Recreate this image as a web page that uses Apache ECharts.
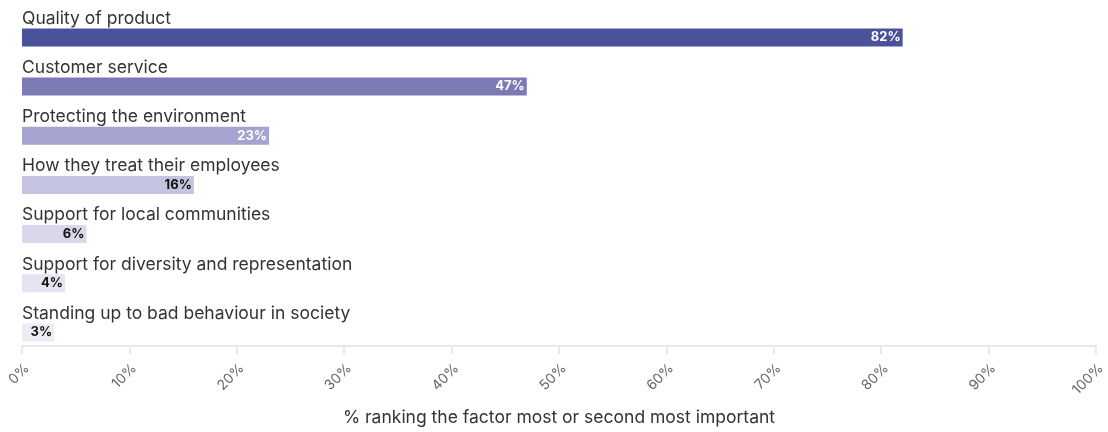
<!DOCTYPE html>
<html>
<head>
<meta charset="utf-8">
<script src="https://cdn.jsdelivr.net/npm/echarts@6/dist/echarts.min.js"></script>
<style>
  html, body { margin: 0; padding: 0; background: #fff; }
  #chart { width: 1108px; height: 432px; }
</style>
</head>
<body>
<div id="chart"></div>
<script>
// Factors and their share of respondents ranking them first or second
const factors = [
  'Quality of product',
  'Customer service',
  'Protecting the environment',
  'How they treat their employees',
  'Support for local communities',
  'Support for diversity and representation',
  'Standing up to bad behaviour in society'
];
const shares = [82, 47, 23, 16, 6, 4, 3];
const barColors = ['#4a5399', '#7b7ab5', '#a5a3cf', '#c4c3e0', '#d8d7eb', '#e4e3f1', '#ececf5'];
const valueLabelColors = ['#ffffff', '#ffffff', '#ffffff', '#111111', '#111111', '#111111', '#111111'];
const xTicks = [0, 10, 20, 30, 40, 50, 60, 70, 80, 90, 100];
const axisTitle = '% ranking the factor most or second most important';

const fontFamily = 'Inter, "Noto Sans", sans-serif';

const chart = echarts.init(document.getElementById('chart'), null, { renderer: 'canvas' });

chart.setOption({
  animation: false,
  backgroundColor: '#ffffff',
  grid: { left: 22, right: 11, top: 12.8, bottom: 73.8, containLabel: false },
  xAxis: {
    type: 'value',
    min: xTicks[0],
    max: xTicks[xTicks.length - 1],
    interval: 10,
    offset: -11,
    axisLine: { show: true, lineStyle: { color: '#e8e8e8', width: 2 } },
    axisTick: { show: true, length: 8, lineStyle: { color: '#e8e8e8', width: 2 } },
    splitLine: { show: false },
    axisLabel: {
      rotate: 45,
      color: '#666666',
      fontSize: 14,
      fontFamily: fontFamily,
      margin: 15,
      verticalAlign: 'top',
      formatter: v => v + '%'
    },
    name: axisTitle,
    nameLocation: 'middle',
    nameGap: 63,
    nameTextStyle: { color: '#333333', fontSize: 17.5, fontFamily: fontFamily }
  },
  yAxis: {
    type: 'category',
    inverse: true,
    data: factors,
    axisLine: { show: false },
    axisTick: { show: false },
    axisLabel: { show: false },
    splitLine: { show: false }
  },
  series: [
    {
      type: 'bar',
      barWidth: 18,
      barGap: '-100%',
      data: shares.map((v, i) => ({
        value: v,
        itemStyle: { color: barColors[i] },
        label: { color: valueLabelColors[i] }
      })),
      label: {
        show: true,
        position: 'insideRight',
        distance: 2,
        fontSize: 13,
        fontWeight: 'bold',
        fontFamily: fontFamily,
        formatter: p => p.value + '%'
      },
      z: 2
    },
    {
      // transparent twin of the bars, carrying the category titles above each bar
      type: 'bar',
      barWidth: 18,
      barGap: '-100%',
      silent: true,
      itemStyle: { color: 'rgba(0,0,0,0)' },
      data: shares,
      label: {
        show: true,
        position: [0, -19],
        align: 'left',
        color: '#333333',
        fontSize: 17.5,
        fontFamily: fontFamily,
        formatter: p => factors[p.dataIndex]
      },
      z: 3
    }
  ]
});
</script>
</body>
</html>
